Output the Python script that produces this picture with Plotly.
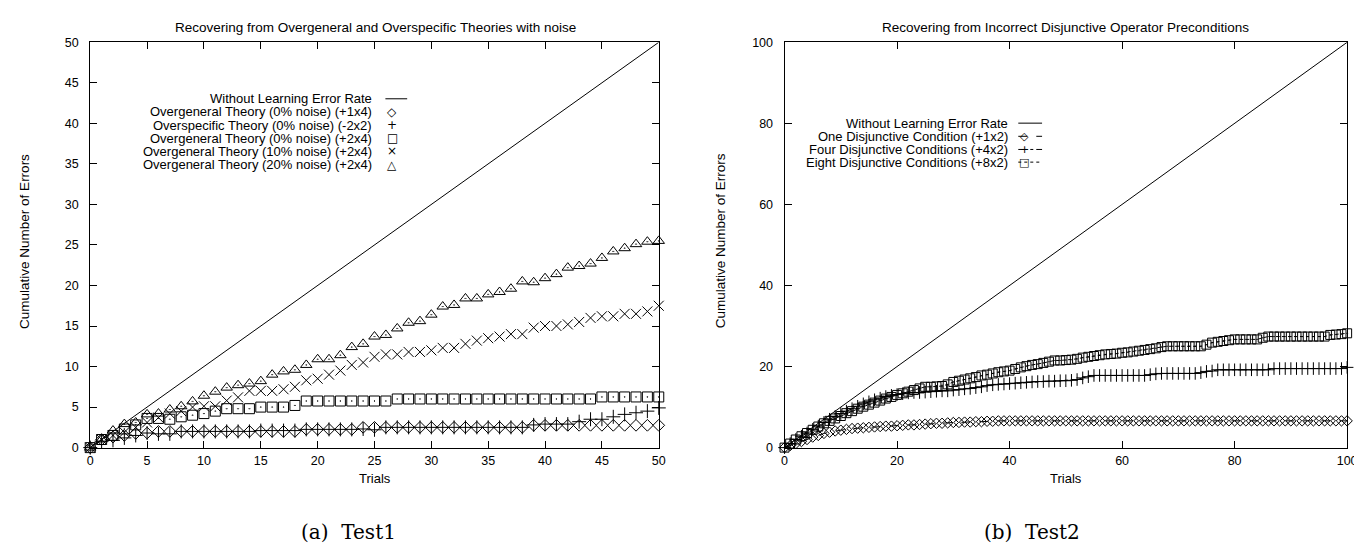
import plotly.graph_objects as go

W, H = 1362, 546

# ---------------- data: left panel (Test1) ----------------
trials_a = list(range(0, 51))
baseline_a_x = [0, 50]
baseline_a_y = [0, 50]
over_0_1x4 = [0, 1.0, 1.3, 1.5, 1.75, 1.8, 2.0, 2.0, 2.0, 2.0,
              2.0, 2.0, 2.0, 2.0, 2.0, 2.0, 2.0, 2.0, 2.0, 2.25,
              2.25, 2.25, 2.25, 2.25, 2.5, 2.5, 2.5, 2.5, 2.5, 2.5,
              2.5, 2.5, 2.5, 2.5, 2.5, 2.5, 2.5, 2.5, 2.5, 2.75,
              2.75, 2.75, 2.75, 2.75, 2.75, 2.75, 2.75, 2.75, 2.75, 2.75,
              2.75]
overspec_0_2x2 = [0, 0.8, 0.9, 1.2, 1.5, 1.8, 1.7, 1.7, 2.0, 2.0,
                  2.0, 2.0, 2.0, 2.0, 2.0, 2.1, 2.1, 2.1, 2.1, 2.25,
                  2.25, 2.25, 2.25, 2.25, 2.3, 2.2, 2.5, 2.5, 2.5, 2.5,
                  2.5, 2.5, 2.5, 2.5, 2.5, 2.5, 2.5, 2.5, 2.5, 2.8,
                  2.9, 2.9, 2.9, 3.2, 3.5, 3.5, 3.8, 4.1, 4.3, 4.5,
                  4.9]
over_0_2x4 = [0, 1.0, 1.5, 2.3, 2.8, 3.6, 3.6, 3.5, 3.8, 4.0,
              4.2, 4.5, 4.8, 4.8, 4.8, 5.0, 5.0, 5.0, 5.2, 5.75,
              5.75, 5.75, 5.75, 5.75, 5.75, 5.75, 5.75, 6.0, 6.0, 6.0,
              6.0, 6.0, 6.0, 6.0, 6.0, 6.0, 6.0, 6.0, 6.0, 6.0,
              6.0, 6.0, 6.0, 6.0, 6.0, 6.25, 6.25, 6.25, 6.25, 6.25,
              6.25]
over_10_2x4 = [0, 1.0, 1.5, 1.9, 2.5, 3.1, 3.7, 4.2, 4.5, 5.0,
               5.1, 5.1, 5.8, 6.2, 7.0, 7.0, 7.0, 7.2, 7.5, 8.3,
               8.5, 9.0, 9.5, 10.2, 10.5, 11.2, 11.5, 11.5, 11.8, 11.8,
               12.0, 12.3, 12.3, 12.8, 13.2, 13.5, 13.7, 14.0, 14.0, 14.8,
               15.0, 15.0, 15.2, 15.5, 16.0, 16.2, 16.2, 16.5, 16.5, 16.8,
               17.5]
over_20_2x4 = [0, 1.0, 2.1, 2.9, 3.1, 4.1, 4.2, 4.7, 5.1, 5.7,
               6.4, 6.9, 7.4, 7.7, 7.9, 8.2, 9.0, 9.4, 9.6, 10.2,
               10.9, 10.9, 11.4, 12.4, 12.8, 13.7, 13.9, 14.7, 15.4, 15.6,
               16.4, 17.4, 17.6, 18.4, 18.4, 18.9, 19.2, 19.6, 20.5, 20.4,
               20.9, 21.4, 22.2, 22.4, 22.7, 23.4, 24.2, 24.6, 25.1, 25.4,
               25.5]

# ---------------- data: right panel (Test2) ----------------
trials_b = list(range(0, 101))
baseline_b_x = [0, 100]
baseline_b_y = [0, 100]
one_disj_1x2 = [0, 0.5, 1.0, 1.5, 2.0, 2.6, 3.0, 3.5, 3.8, 4.1,
                4.3, 4.5, 4.7, 4.8, 4.9, 5.0, 5.1, 5.2, 5.3, 5.3,
                5.4, 5.5, 5.6, 5.6, 5.7, 5.8, 5.9, 6.0, 6.0, 6.1,
                6.2, 6.2, 6.3, 6.3, 6.4, 6.4, 6.5, 6.5, 6.6, 6.6,
                6.6, 6.6, 6.6, 6.6, 6.6, 6.6, 6.6, 6.6, 6.6, 6.6,
                6.6, 6.6, 6.6, 6.6, 6.6, 6.6, 6.6, 6.6, 6.6, 6.6,
                6.6, 6.6, 6.6, 6.6, 6.6, 6.6, 6.6, 6.6, 6.6, 6.6,
                6.6, 6.6, 6.6, 6.6, 6.6, 6.6, 6.6, 6.6, 6.6, 6.6,
                6.6, 6.6, 6.6, 6.6, 6.6, 6.6, 6.6, 6.6, 6.6, 6.6,
                6.6, 6.6, 6.6, 6.6, 6.6, 6.6, 6.6, 6.6, 6.6, 6.6,
                6.6]
four_disj_4x2 = [0, 1.0, 2.0, 2.8, 3.6, 4.5, 5.3, 6.2, 7.0, 7.7,
                 8.4, 9.0, 9.6, 10.2, 10.8, 11.3, 11.8, 12.2, 12.6, 12.9,
                 13.1, 13.3, 13.5, 13.6, 13.6, 13.7, 13.8, 13.9, 14.0, 14.0,
                 14.2, 14.3, 14.5, 14.6, 14.8, 15.0, 15.3, 15.5, 15.6, 15.7,
                 15.8, 15.9, 16.0, 16.1, 16.2, 16.3, 16.3, 16.4, 16.4, 16.5,
                 16.5, 16.6, 16.8, 17.2, 17.5, 17.8, 17.8, 17.8, 17.8, 17.8,
                 17.8, 17.8, 17.8, 17.8, 17.8, 18.0, 18.2, 18.3, 18.3, 18.3,
                 18.3, 18.3, 18.3, 18.3, 18.5, 18.8, 18.9, 19.2, 19.2, 19.2,
                 19.2, 19.2, 19.2, 19.2, 19.2, 19.2, 19.2, 19.5, 19.5, 19.5,
                 19.5, 19.5, 19.5, 19.5, 19.5, 19.5, 19.5, 19.5, 19.5, 19.5,
                 19.8]
eight_disj_8x2 = [0, 1.0, 2.0, 2.8, 3.6, 4.4, 5.2, 6.0, 6.6, 7.2,
                  7.8, 8.5, 9.0, 9.6, 10.1, 10.6, 11.1, 11.6, 12.1, 12.5,
                  13.0, 13.4, 13.8, 14.2, 14.6, 15.0, 15.0, 15.1, 15.2, 15.6,
                  16.2, 16.5, 16.8, 17.1, 17.4, 17.8, 18.0, 18.3, 18.6, 18.8,
                  19.0, 19.4, 19.8, 20.1, 20.4, 20.6, 20.9, 21.2, 21.5, 21.5,
                  21.6, 21.7, 21.9, 22.2, 22.4, 22.6, 22.8, 23.0, 23.1, 23.2,
                  23.4, 23.5, 23.7, 23.9, 24.1, 24.3, 24.5, 24.8, 25.0, 25.0,
                  25.0, 25.0, 25.0, 25.0, 25.0, 25.4, 25.9, 26.1, 26.3, 26.5,
                  26.7, 26.7, 26.7, 26.7, 26.7, 27.1, 27.4, 27.4, 27.4, 27.4,
                  27.4, 27.4, 27.4, 27.4, 27.4, 27.4, 27.4, 27.8, 27.9, 28.0,
                  28.2]

x_ticks_a = [0, 5, 10, 15, 20, 25, 30, 35, 40, 45, 50]
y_ticks_a = [0, 5, 10, 15, 20, 25, 30, 35, 40, 45, 50]
x_ticks_b = [0, 20, 40, 60, 80, 100]
y_ticks_b = [0, 20, 40, 60, 80, 100]

title_a = "Recovering from Overgeneral and Overspecific Theories with noise"
title_b = "Recovering from Incorrect Disjunctive Operator Preconditions"
names_a = ["Without Learning Error Rate",
           "Overgeneral Theory (0% noise) (+1x4)",
           "Overspecific Theory (0% noise) (-2x2)",
           "Overgeneral Theory (0% noise) (+2x4)",
           "Overgeneral Theory (10% noise) (+2x4)",
           "Overgeneral Theory (20% noise) (+2x4)"]
names_b = ["Without Learning Error Rate",
           "One Disjunctive Condition (+1x2)",
           "Four Disjunctive Conditions (+4x2)",
           "Eight Disjunctive Conditions (+8x2)"]

FONT = "Liberation Sans"
BLACK = "black"


def px(x):
    return x / W


def py(y):
    return 1 - y / H


fig = go.Figure()

# left panel traces
fig.add_trace(go.Scatter(x=baseline_a_x, y=baseline_a_y, mode="lines",
                         line=dict(color=BLACK, width=1), xaxis="x", yaxis="y",
                         name=names_a[0], showlegend=False))
sym_a = ["diamond-open", "cross-thin-open", "square-open-dot", "x-thin-open", "triangle-up-open-dot"]
series_a = [over_0_1x4, overspec_0_2x2, over_0_2x4, over_10_2x4, over_20_2x4]
size_a = [9, 10, 10, 10, 10]
for name, sym, ys, sz in zip(names_a[1:], sym_a, series_a, size_a):
    fig.add_trace(go.Scatter(x=trials_a, y=ys, mode="markers", name=name, showlegend=False,
                             xaxis="x", yaxis="y", cliponaxis=False,
                             marker=dict(symbol=sym, size=sz, color=BLACK,
                                         line=dict(color=BLACK, width=1))))

# right panel traces
fig.add_trace(go.Scatter(x=baseline_b_x, y=baseline_b_y, mode="lines",
                         line=dict(color=BLACK, width=1), xaxis="x2", yaxis="y2",
                         name=names_b[0], showlegend=False))
sym_b = ["diamond-open", "cross-thin-open", "square-open-dot"]
dash_b = ["dash", "dashdot", "dot"]
series_b = [one_disj_1x2, four_disj_4x2, eight_disj_8x2]
size_b = [8, 9, 9]
for name, sym, dsh, ys, sz in zip(names_b[1:], sym_b, dash_b, series_b, size_b):
    fig.add_trace(go.Scatter(x=trials_b, y=ys, mode="lines+markers", name=name, showlegend=False,
                             xaxis="x2", yaxis="y2", cliponaxis=False,
                             line=dict(color=BLACK, width=1, dash=dsh),
                             marker=dict(symbol=sym, size=sz, color=BLACK,
                                         line=dict(color=BLACK, width=1))))

axis_common = dict(showline=True, linecolor=BLACK, linewidth=1, mirror="ticks",
                   ticks="inside", ticklen=7, tickcolor=BLACK, tickwidth=1,
                   showgrid=False, zeroline=False,
                   tickfont=dict(family=FONT, size=12.5, color=BLACK))
xa = dict(axis_common, ticklabelstandoff=1)
ya = dict(axis_common, ticklabelstandoff=8)

ydom = [py(444), py(28)]
fig.update_layout(
    width=W, height=H,
    margin=dict(l=0, r=0, t=0, b=0),
    paper_bgcolor="white", plot_bgcolor="white",
    showlegend=False,
    xaxis=dict(domain=[px(80), px(654)], range=[0, 50], tickvals=x_ticks_a,
               anchor="y", **xa),
    yaxis=dict(domain=ydom, range=[0, 50], tickvals=y_ticks_a, anchor="x", **ya),
    xaxis2=dict(domain=[px(781), px(1349)], range=[0, 100], tickvals=x_ticks_b,
                anchor="y2", **xa),
    yaxis2=dict(domain=ydom, range=[0, 100], tickvals=y_ticks_b, anchor="x2", **ya),
)

ann = []
shapes = []


def text(x, y, s, size=12, family=FONT, xanchor="center", angle=0):
    ann.append(dict(x=px(x), y=py(y), xref="paper", yref="paper", text=s,
                    showarrow=False, xanchor=xanchor, yanchor="middle", textangle=angle,
                    font=dict(family=family, size=size, color=BLACK)))


# titles, axis titles, captions
text(368, 13, title_a, size=13.5)
text(1065, 13, title_b, size=13.5)
text(368, 476, "Trials", size=13)
text(1065, 476, "Trials", size=13)
text(13, 232, "Cumulative Number of Errors", size=13.5, angle=-90)
text(716, 232, "Cumulative Number of Errors", size=13.5, angle=-90)
text(341, 531, "(a)  Test1", size=20, family="DejaVu Serif")
text(1031, 531, "(b)  Test2", size=20, family="DejaVu Serif")

# left legend
rows_a = [86, 99.5, 113, 126.5, 140, 153.5]
glyph_a = [None, "\u25C7", "+", "\u25A1", "\u00D7", "\u25B3"]
for name, yy, g in zip(names_a, rows_a, glyph_a):
    text(367, yy, name, size=13, xanchor="right")
    if g is None:
        shapes.append(dict(type="line", xref="paper", yref="paper",
                           x0=px(378), x1=px(400), y0=py(yy), y1=py(yy),
                           line=dict(color=BLACK, width=1)))
    else:
        text(385, yy, g, size=12, family="DejaVu Sans")

# right legend
rows_b = [111, 124.5, 138, 151]
glyph_b = [None, "\u25C7", "+", "\u25A1"]
dash_leg = [None, "dash", "dashdot", "dot"]
for name, yy, g, d in zip(names_b, rows_b, glyph_b, dash_leg):
    text(1009, yy, name, size=13, xanchor="right")
    shapes.append(dict(type="line", xref="paper", yref="paper",
                       x0=px(1017), x1=px(1041), y0=py(yy), y1=py(yy),
                       line=dict(color=BLACK, width=1, dash=d if d else "solid")))
    if g is not None:
        text(1023, yy, g, size=11, family="DejaVu Sans")

fig.update_layout(annotations=ann, shapes=shapes)
fig.write_html("out.html")
